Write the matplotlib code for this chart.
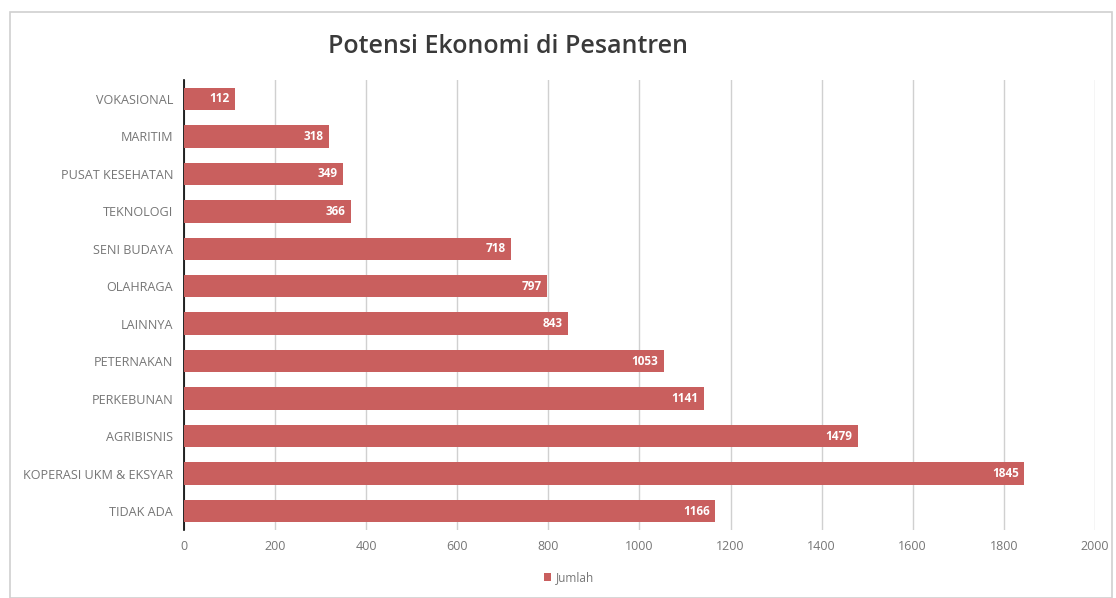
import matplotlib as mpl
mpl.use('Agg')
import matplotlib.pyplot as plt
from matplotlib.patches import Rectangle

mpl.rcParams['font.family'] = ['Open Sans', 'DejaVu Sans']

categories = ['VOKASIONAL', 'MARITIM', 'PUSAT KESEHATAN', 'TEKNOLOGI', 'SENI BUDAYA',
              'OLAHRAGA', 'LAINNYA', 'PETERNAKAN', 'PERKEBUNAN', 'AGRIBISNIS',
              'KOPERASI UKM & EKSYAR', 'TIDAK ADA']
jumlah = [112, 318, 349, 366, 718, 797, 843, 1053, 1141, 1479, 1845, 1166]
x_ticks = [0, 200, 400, 600, 800, 1000, 1200, 1400, 1600, 1800, 2000]

bar_color = '#C95F5E'
text_gray = '#767676'

fig = plt.figure(figsize=(11.16, 5.98), dpi=100)
ax = fig.add_axes([0.165, 0.114, 0.816, 0.752])

# light frame around the whole chart
fig.patches.append(Rectangle((10 / 1116, 0.0), 1102 / 1116, 1 - 12 / 598,
                             transform=fig.transFigure, fill=False,
                             edgecolor='#D0D0D0', linewidth=1.2))

ypos = list(range(len(categories)))
bars = ax.barh(ypos, jumlah, height=0.6, color=bar_color, label='Jumlah', zorder=3)

for b, v in zip(bars, jumlah):
    ax.text(b.get_width() - 12, b.get_y() + b.get_height() / 2, str(v),
            ha='right', va='center', color='white', fontsize=8.5,
            fontweight='bold', zorder=4)

ax.set_yticks(ypos)
ax.set_yticklabels(categories, fontsize=9.1, color=text_gray)
ax.set_ylim(len(categories) - 0.5, -0.5)
ax.set_xlim(0, 2000)
ax.set_xticks(x_ticks)
ax.set_xticklabels([str(t) for t in x_ticks], fontsize=9, color=text_gray)

ax.grid(axis='x', color='#D0D0D0', linewidth=1, zorder=0)
for s in ['top', 'right', 'bottom']:
    ax.spines[s].set_visible(False)
ax.spines['left'].set_color('#000000')
ax.spines['left'].set_linewidth(1.2)
ax.tick_params(axis='y', length=0, pad=8)
ax.tick_params(axis='x', length=0, pad=7)

fig.text(0.455, 0.922, 'Potensi Ekonomi di Pesantren', ha='center', va='center',
         fontsize=18, fontweight='semibold', color='#3A3A3A')

fig.legend(handles=[bars], labels=['Jumlah'], loc='center', bbox_to_anchor=(0.51, 0.034),
           frameon=False, fontsize=8.5, handlelength=0.6, handleheight=0.6,
           handletextpad=0.4, labelcolor=text_gray)

plt.savefig('out.png', dpi=100)
